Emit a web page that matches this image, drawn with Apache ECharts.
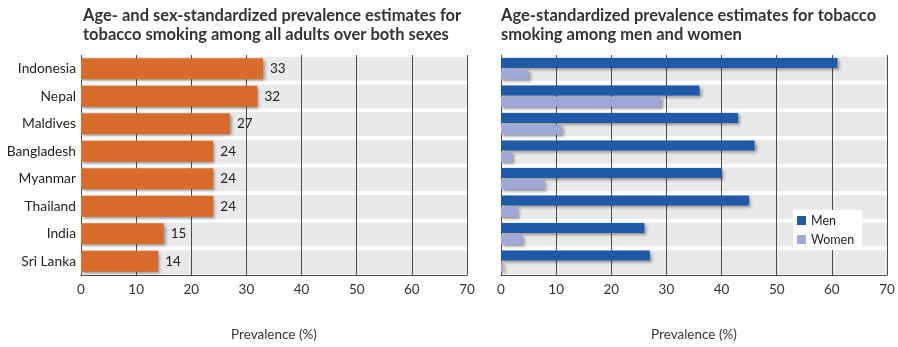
<!DOCTYPE html>
<html>
<head>
<meta charset="utf-8">
<script src="https://cdn.jsdelivr.net/npm/echarts@6/dist/echarts.min.js"></script>
<style>
  html, body { margin: 0; padding: 0; background: #fff; }
  #chart { width: 898px; height: 347px; }
</style>
</head>
<body>
<div id="chart"></div>
<script>
// Countries, top to bottom
const countries = ['Indonesia', 'Nepal', 'Maldives', 'Bangladesh', 'Myanmar', 'Thailand', 'India', 'Sri Lanka'];
// Age- and sex-standardized prevalence, all adults (%)
const allAdults = [33, 32, 27, 24, 24, 24, 15, 14];
// Age-standardized prevalence by sex (%)
const men = [61, 36, 43, 46, 40, 45, 26, 27];
const women = [5, 29, 11, 2, 8, 3, 4, 0.4];
// Value axis range and step
const axisMax = 70;
const axisStep = 10;
// Full-width row bands
const bandValues = countries.map(() => axisMax);

const FONT = 'Lato, "Open Sans", sans-serif';
const ORANGE = '#d86a2a';
const BLUE = '#1f5aa8';
const LIGHT = '#9ea9da';
const BAND = '#e9e9e9';
const GRIDLINE = '#4d4d4d';

const panels = [
  { left: 81, right: 431 },
  { left: 501, right: 11 }
];
const plotTop = 55, plotBottom = 71;

const grids = [];
const xAxes = [];
const yAxes = [];
panels.forEach(p => {
  // band grid, then data grid, same rectangle
  grids.push({ left: p.left, right: p.right, top: plotTop, bottom: plotBottom, containLabel: false });
  grids.push({ left: p.left, right: p.right, top: plotTop, bottom: plotBottom, containLabel: false });
});

function bandAxes(gi) {
  xAxes.push({ gridIndex: gi, type: 'value', min: 0, max: axisMax, show: false });
  yAxes.push({ gridIndex: gi, type: 'category', data: countries, inverse: true, show: false });
}
function dataAxes(gi, showNames) {
  xAxes.push({
    gridIndex: gi, type: 'value', min: 0, max: axisMax, interval: axisStep, z: 2,
    name: 'Prevalence (%)', nameLocation: 'middle', nameGap: 53,
    nameTextStyle: { fontFamily: FONT, fontSize: 13.5, color: '#333' },
    axisLine: { show: true, lineStyle: { color: GRIDLINE, width: 1 } },
    axisTick: { show: false },
    axisLabel: { fontFamily: FONT, fontSize: 13.5, color: '#333', margin: 8 },
    splitLine: { show: true, lineStyle: { color: GRIDLINE, width: 1 } }
  });
  yAxes.push({
    gridIndex: gi, type: 'category', data: countries, inverse: true, z: 2,
    axisLine: { show: false }, axisTick: { show: false },
    axisLabel: { show: showNames, fontFamily: FONT, fontSize: 13.8, color: '#222', margin: 5 }
  });
}
bandAxes(0); dataAxes(1, true);
bandAxes(2); dataAxes(3, false);

const shadow = { shadowColor: 'rgba(0,0,0,0.35)', shadowBlur: 3, shadowOffsetX: 2, shadowOffsetY: 2 };

const series = [
  { type: 'bar', xAxisIndex: 0, yAxisIndex: 0, data: bandValues, barWidth: 24, silent: true, z: 1,
    itemStyle: { color: BAND } },
  { type: 'bar', xAxisIndex: 1, yAxisIndex: 1, data: allAdults, barWidth: 21, z: 3,
    itemStyle: Object.assign({ color: ORANGE }, shadow),
    label: { show: true, position: 'right', distance: 7, fontFamily: FONT, fontSize: 13.5, color: '#222' } },
  { type: 'bar', xAxisIndex: 2, yAxisIndex: 2, data: bandValues, barWidth: 24, silent: true, z: 1,
    itemStyle: { color: BAND } },
  { name: 'Men', type: 'bar', xAxisIndex: 3, yAxisIndex: 3, data: men, barWidth: 10, barGap: '15%', z: 3,
    itemStyle: Object.assign({ color: BLUE }, shadow) },
  { name: 'Women', type: 'bar', xAxisIndex: 3, yAxisIndex: 3, data: women, barWidth: 10, barGap: '15%', z: 3,
    itemStyle: Object.assign({ color: LIGHT }, shadow) }
];

const titleStyle = { fontFamily: FONT, fontSize: 16.5, fontWeight: 'bold', color: '#333', lineHeight: 19 };

const chart = echarts.init(document.getElementById('chart'), null, { renderer: 'canvas' });
chart.setOption({
  animation: false,
  backgroundColor: '#fff',
  title: [
    { text: 'Age- and sex-standardized prevalence estimates for\ntobacco smoking among all adults over both sexes',
      left: 83, top: 6, padding: 0, textStyle: titleStyle },
    { text: 'Age-standardized prevalence estimates for tobacco\nsmoking among men and women',
      left: 501, top: 6, padding: 0, textStyle: titleStyle }
  ],
  legend: {
    data: ['Men', 'Women'], orient: 'vertical', left: 793, top: 210,
    backgroundColor: '#fff', padding: [4, 8, 4, 4], itemGap: 6,
    itemWidth: 9, itemHeight: 9, icon: 'rect',
    textStyle: { fontFamily: FONT, fontSize: 12.5, color: '#222' }
  },
  grid: grids,
  xAxis: xAxes,
  yAxis: yAxes,
  series: series
});
</script>
</body>
</html>
